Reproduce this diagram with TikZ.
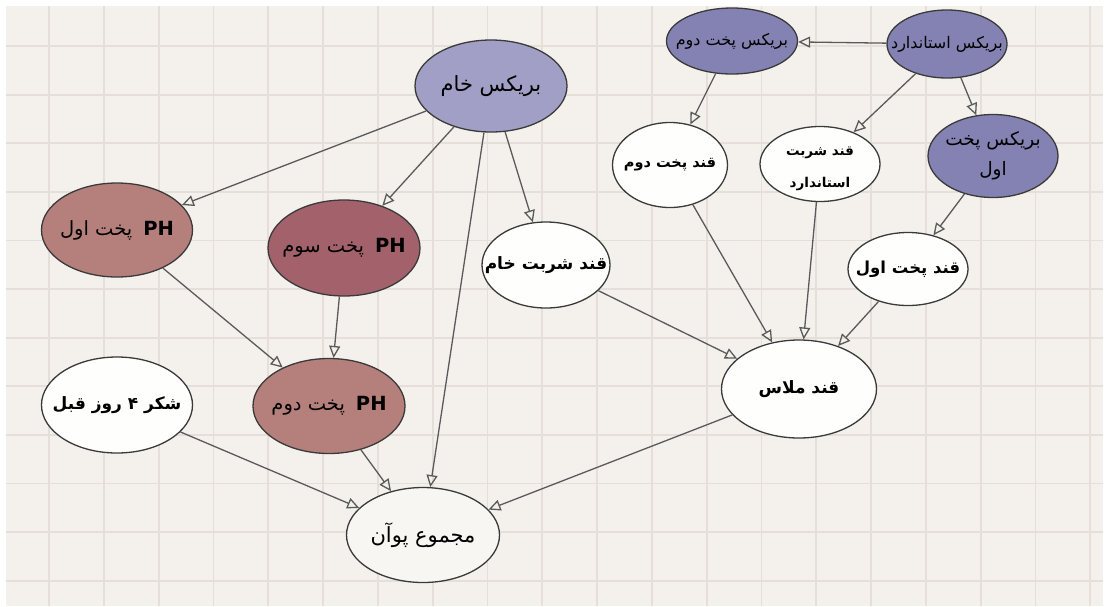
\documentclass[tikz,border=0pt]{standalone}
\usepackage{fontspec}
\usepackage{xcolor}
\usetikzlibrary{shapes, arrows.meta, positioning}
\TeXXeTstate=1
\newfontfamily\arabicfont[Script=Arabic]{DejaVu Sans}
\definecolor{gridbg}{HTML}{F4F1EC}
\definecolor{gridln}{HTML}{E4DFD9}
\definecolor{brixlight}{HTML}{A19FC5}
\definecolor{brixdark}{HTML}{8482B2}
\definecolor{phlight}{HTML}{B5807B}
\definecolor{phdark}{HTML}{A2616B}
\definecolor{sugarfill}{HTML}{FEFEFD}
\definecolor{totalfill}{HTML}{F8F6F3}
\definecolor{edgegray}{HTML}{5A5A5A}
\definecolor{rimgray}{HTML}{3A3A3A}

\begin{document}
\begin{tikzpicture}[x=1pt, y=-1pt]
        \useasboundingbox (0,0) rectangle (1107,606);
        \fill[white] (0,0) rectangle (1107,606);
        \fill[gridbg] (6,6) rectangle (1103,606);

        % grid
        \tikzstyle{gridline} = [draw=gridln, line width=1.8pt];
        \foreach \gx in {0, ..., 19}{
            \draw [gridline] ({49 + 54.8*\gx}, 6) -- ({49 + 54.8*\gx}, 606);
        }
        \foreach \gy in {0, ..., 11}{
            \draw [gridline] (6, {46 + 48.6*\gy}) -- (1103, {46 + 48.6*\gy});
        }

        \tikzstyle{v} = [draw=rimgray, ellipse, line width=1.3pt, inner sep=0pt];
        \tikzstyle{brixnode} = [v, fill=brixdark];
        \tikzstyle{phnode} = [v, fill=phlight];
        \tikzstyle{sugarnode} = [v, fill=sugarfill];
        \tikzstyle{txt} = [inner sep=0pt, align=center, font=\arabicfont\fontsize{19.5}{22}\selectfont];
        \tikzstyle{link} = [draw=edgegray, line width=1.3pt, -{Triangle[open, length=12pt, width=11pt]}];

        % brix nodes
        \node [brixnode, fill=brixlight, minimum width=152pt, minimum height=92pt] (brixraw) at (491, 86) {};
        \node [brixnode, minimum width=131pt, minimum height=66pt] (brixtwo) at (732, 41) {};
        \node [brixnode, minimum width=120pt, minimum height=68pt] (brixstd) at (947, 44) {};
        \node [brixnode, minimum width=130pt, minimum height=83pt] (brixone) at (993, 156) {};

        % sugar nodes
        \node [sugarnode, minimum width=115pt, minimum height=85pt] (sugartwo) at (670, 165) {};
        \node [sugarnode, minimum width=120pt, minimum height=75pt] (sugarstd) at (820, 164) {};
        \node [sugarnode, minimum width=120pt, minimum height=73pt] (sugarone) at (908, 269) {};
        \node [sugarnode, minimum width=128pt, minimum height=86pt] (sugarraw) at (546, 265) {};
        \node [sugarnode, minimum width=155pt, minimum height=98pt] (molasses) at (799, 389) {};
        \node [sugarnode, minimum width=151pt, minimum height=96pt] (sugarold) at (117, 405) {};

        % ph nodes
        \node [phnode, minimum width=151pt, minimum height=94pt] (phone) at (117, 230) {};
        \node [phnode, fill=phdark, minimum width=152pt, minimum height=96pt] (phthree) at (344, 248) {};
        \node [phnode, minimum width=152pt, minimum height=95pt] (phtwo) at (329, 406) {};

        % total
        \node [v, fill=totalfill, minimum width=153pt, minimum height=95pt] (total) at (423, 535) {};

        % texts
        \node [txt, font=\arabicfont\fontsize{21}{24}\selectfont] (brixrawtext) at (brixraw) {\beginR بریکس خام\endR};
        \node [txt, font=\arabicfont\fontsize{16}{20}\selectfont] (brixtwotext) at (brixtwo) {\beginR بریکس پخت دوم\endR};
        \node [txt, font=\arabicfont\fontsize{16}{20}\selectfont] (brixstdtext) at (brixstd) {\beginR بریکس استاندارد\endR};
        \node [txt, font=\arabicfont\fontsize{18.5}{30}\selectfont] (brixonetext) at (brixone) {\beginR بریکس پخت\endR\\\beginR اول\endR};
        \node [txt, font=\arabicfont\bfseries\fontsize{14.5}{20}\selectfont] (sugartwotext) at (sugartwo) {\beginR قند پخت دوم\endR};
        \node [txt, font=\arabicfont\bfseries\fontsize{13.5}{32}\selectfont] (sugarstdtext) at ([yshift=-5pt]sugarstd) {\beginR قند شربت\endR\\\beginR استاندارد\endR};
        \node [txt, font=\arabicfont\bfseries\fontsize{16.5}{20}\selectfont] (sugaronetext) at (sugarone) {\beginR قند پخت اول\endR};
        \node [txt, font=\arabicfont\bfseries\fontsize{17}{20}\selectfont] (sugarrawtext) at (sugarraw) {\beginR قند شربت خام\endR};
        \node [txt, font=\arabicfont\bfseries\fontsize{17}{20}\selectfont] (molassestext) at (molasses) {\beginR قند ملاس\endR};
        \node [txt, font=\arabicfont\bfseries\fontsize{17}{20}\selectfont] (sugaroldtext) at (sugarold) {\beginR شکر ۴ روز قبل\endR};
        \node [txt] (phonetext) at (phone) {\beginR{\bfseries\beginL PH\endL}\hspace{11pt}پخت اول\endR};
        \node [txt] (phthreetext) at (phthree) {\beginR{\bfseries\beginL PH\endL}\hspace{11pt}پخت سوم\endR};
        \node [txt] (phtwotext) at (phtwo) {\beginR{\bfseries\beginL PH\endL}\hspace{11pt}پخت دوم\endR};
        \node [txt, font=\arabicfont\fontsize{21}{24}\selectfont] (totaltext) at (total) {\beginR مجموع پوآن\endR};

        % links
        \draw [link] (brixraw) -- (phone);
        \draw [link] (brixraw) -- (phthree);
        \draw [link] (brixraw) -- (total);
        \draw [link] (brixraw) -- (sugarraw);
        \draw [link] (phone) -- (phtwo);
        \draw [link] (phthree) -- (phtwo);
        \draw [link] (phtwo) -- (total);
        \draw [link] (sugarold) -- (total);
        \draw [link] (molasses) -- (total);
        \draw [link] (brixstd) -- (brixtwo);
        \draw [link] (brixstd) -- (sugarstd);
        \draw [link] (brixstd) -- (brixone);
        \draw [link] (brixtwo) -- (sugartwo);
        \draw [link] (brixone) -- (sugarone);
        \foreach \src in {sugarraw, sugartwo, sugarstd, sugarone}{
            \draw [link] (\src) -- (molasses);
        }
    \end{tikzpicture}
\end{document}
